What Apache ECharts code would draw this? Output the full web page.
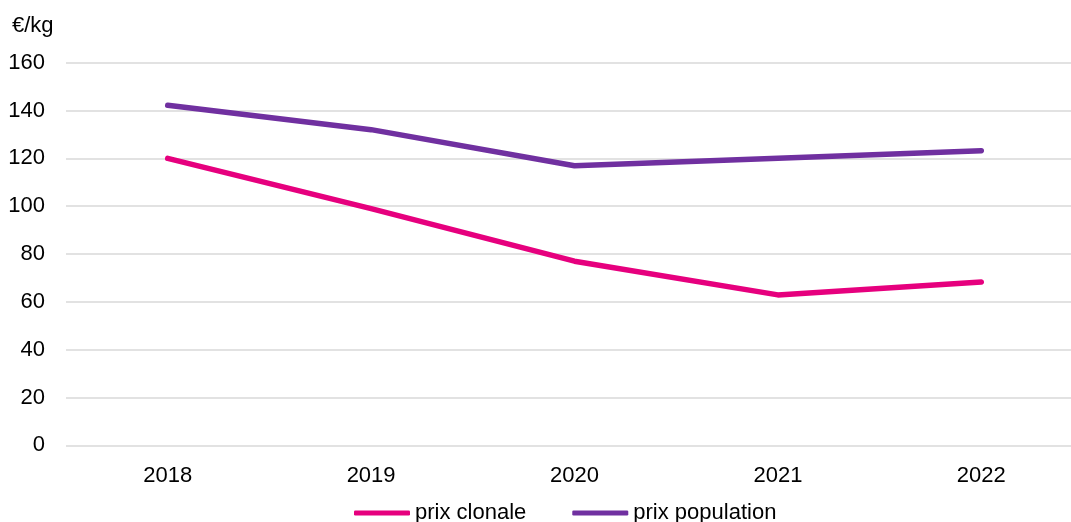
<!DOCTYPE html>
<html>
<head>
<meta charset="utf-8">
<script src="https://cdn.jsdelivr.net/npm/echarts@6/dist/echarts.min.js"></script>
<style>html,body{margin:0;padding:0;background:#fff;overflow:hidden}#c{width:1083px;height:522px}</style>
</head>
<body>
<div id="c"></div>
<script>
const categories = ['2018', '2019', '2020', '2021', '2022'];
const prixClonale = [120, 99, 77, 62.9, 68.3];
const prixPopulation = [142.2, 132, 116.9, 120, 123.2];
const yTicks = [0, 20, 40, 60, 80, 100, 120, 140, 160];

const chart = echarts.init(document.getElementById('c'));
const font = 'Liberation Sans, Arial, sans-serif';
chart.setOption({
  animation: false,
  title: { text: '€/kg', left: 12, top: 15, padding: 0, textStyle: { fontFamily: font, fontSize: 22, fontWeight: 'normal', color: '#000' } },
  grid: { left: 66, top: 62.7, right: 0, bottom: 522 - 445.3 },
  legend: {
    top: 502, left: 354, padding: 0,
    icon: 'roundRect',
    itemWidth: 56, itemHeight: 5, itemGap: 46,
    textStyle: { fontFamily: font, fontSize: 22, color: '#000' },
    data: ['prix clonale', 'prix population']
  },
  xAxis: {
    type: 'category', data: categories, boundaryGap: true,
    axisLine: { show: false }, axisTick: { show: false },
    axisLabel: { margin: 20, fontFamily: font, fontSize: 22, color: '#000' }
  },
  yAxis: {
    type: 'value', min: yTicks[0], max: yTicks[yTicks.length - 1], interval: 20,
    axisLine: { show: false }, axisTick: { show: false },
    splitLine: { lineStyle: { color: '#d9d9d9', width: 1.5 } },
    axisLabel: { margin: 21, fontFamily: font, fontSize: 22, color: '#000' }
  },
  series: [
    { name: 'prix clonale', type: 'line', data: prixClonale, showSymbol: false, symbol: 'none',
      itemStyle: { color: '#E6007E' }, lineStyle: { color: '#E6007E', width: 5.5, cap: 'round', join: 'round' } },
    { name: 'prix population', type: 'line', data: prixPopulation, showSymbol: false, symbol: 'none',
      itemStyle: { color: '#7030A0' }, lineStyle: { color: '#7030A0', width: 5.5, cap: 'round', join: 'round' } }
  ]
});
</script>
</body>
</html>
